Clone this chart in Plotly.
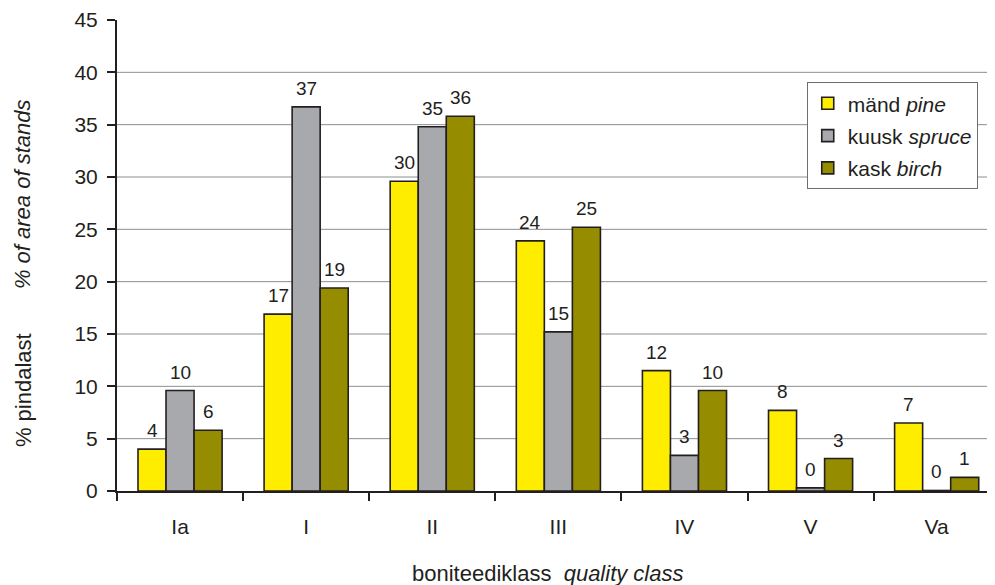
import plotly.graph_objects as go

categories = ["Ia", "I", "II", "III", "IV", "V", "Va"]
pine = [4.0, 16.9, 29.6, 23.9, 11.5, 7.7, 6.5]
spruce = [9.6, 36.7, 34.8, 15.2, 3.4, 0.3, 0.05]
birch = [5.8, 19.4, 35.8, 25.2, 9.6, 3.1, 1.3]
pine_labels = ["4", "17", "30", "24", "12", "8", "7"]
spruce_labels = ["10", "37", "35", "15", "3", "0", "0"]
birch_labels = ["6", "19", "36", "25", "10", "3", "1"]
series_names = ["mänd <i>pine</i>", "kuusk <i>spruce</i>", "kask <i>birch</i>"]
colors = ["#FFED00", "#A7A9AC", "#968C00"]
y_ticks = [0, 5, 10, 15, 20, 25, 30, 35, 40, 45]

FONT = "Liberation Sans, Arial, sans-serif"
DARK = "#231F20"

fig = go.Figure()
series = [(pine, pine_labels), (spruce, spruce_labels), (birch, birch_labels)]
for i, ((vals, labs), name, col) in enumerate(zip(series, series_names, colors)):
    fig.add_trace(go.Bar(
        x=categories, y=vals, name=name, legendgroup=f"g{i}",
        marker=dict(color=col, line=dict(color=DARK, width=1.6)),
    ))

annotations = []
shifts = [-28, 0, 28]
for (vals, labs), xs in zip(series, shifts):
    for c, v, t in zip(categories, vals, labs):
        annotations.append(dict(
            x=c, y=v, text=t, showarrow=False, xref="x", yref="y",
            xshift=xs, yshift=6, yanchor="bottom",
            font=dict(family=FONT, size=19, color=DARK),
        ))

# y-axis titles
annotations.append(dict(
    x=-0.106, y=0.6306, xref="paper", yref="paper", text="<i>% of area of stands</i>",
    showarrow=False, textangle=-90, xanchor="center", yanchor="middle",
    font=dict(family=FONT, size=22, color=DARK),
))
annotations.append(dict(
    x=-0.106, y=0.2144, xref="paper", yref="paper", text="% pindalast",
    showarrow=False, textangle=-90, xanchor="center", yanchor="middle",
    font=dict(family=FONT, size=22, color=DARK),
))
# x-axis title
annotations.append(dict(
    x=0.4865, y=-0.176, xref="paper", yref="paper",
    text="boniteediklass&nbsp;&nbsp;<i>quality class</i>",
    showarrow=False, xanchor="center", yanchor="middle",
    font=dict(family=FONT, size=22, color=DARK),
))

shapes = []
for t in y_ticks[1:-1]:
    shapes.append(dict(type="line", xref="paper", yref="y", x0=0, x1=1, y0=t, y1=t,
                       line=dict(color="#8C8E90", width=1), layer="below"))

fig.update_layout(
    width=995, height=585,
    margin=dict(l=109, r=0, t=12, b=102),
    paper_bgcolor="white", plot_bgcolor="white",
    barmode="group", bargap=0.333, bargroupgap=0,
    font=dict(family=FONT, color=DARK),
    showlegend=True,
    legend=dict(
        x=0.7785, y=0.868, xanchor="left", yanchor="top",
        bgcolor="white", bordercolor="#6D6E71", borderwidth=1,
        font=dict(family=FONT, size=21, color=DARK),
        traceorder="grouped", tracegroupgap=2,
        itemwidth=30,
    ),
    annotations=annotations,
    shapes=shapes,
    xaxis=dict(
        range=[-0.5, 6.526], showline=True, linecolor=DARK, linewidth=2,
        ticks="outside", tickson="boundaries", ticklen=8, tickwidth=1.5, tickcolor=DARK,
        tickfont=dict(family=FONT, size=21, color=DARK), ticklabelstandoff=16,
        showgrid=False, zeroline=False,
    ),
    yaxis=dict(
        range=[0, 45], tickvals=y_ticks, showline=True, linecolor=DARK, linewidth=2,
        ticks="outside", ticklen=8, tickwidth=1.5, tickcolor=DARK,
        tickfont=dict(family=FONT, size=21, color=DARK), ticklabelstandoff=5,
        showgrid=False, zeroline=False,
    ),
)

fig.write_html("out.html")
